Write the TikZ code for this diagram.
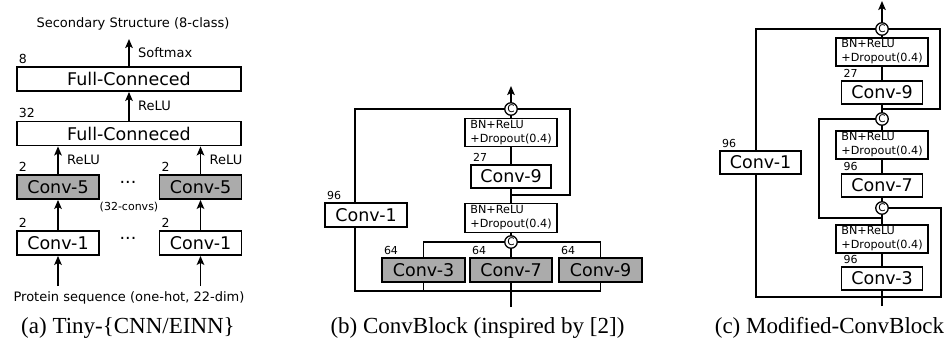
\documentclass[tikz,border=0pt]{standalone}
\usepackage{fontspec}
\setmainfont{DejaVu Sans}
\newfontfamily\capfont{Liberation Serif}
\usetikzlibrary{calc,arrows.meta}

\begin{document}
\begin{tikzpicture}[x=1pt,y=-1pt,line width=1.8pt,>={Stealth[length=9pt,width=7.5pt,inset=2pt]},
    blk/.style={draw,fill=white,inner sep=0pt,minimum height=24pt,
      font=\fontsize{17.5}{18}\selectfont},
    conv/.style={blk,minimum width=82pt},
    gconv/.style={conv,fill=black!33},
    bnbox/.style={draw,inner sep=0pt,minimum width=93pt,minimum height=28pt,
      align=left,font=\fontsize{11.2}{14}\selectfont},
    cat/.style={draw,circle,line width=1.3pt,fill=white,inner sep=0pt,
      minimum size=12.5pt,font=\fontsize{10.5}{10.5}\selectfont},
    num/.style={font=\fontsize{11}{11}\selectfont,inner sep=2pt,anchor=south west},
    numa/.style={num,font=\fontsize{12.5}{12.5}\selectfont},
    txt/.style={font=\fontsize{13}{14}\selectfont},
    captxt/.style={font=\capfont\fontsize{23}{23}\selectfont,anchor=base}]
  \useasboundingbox (0,0) rectangle (948,338);

  % (a)
  \node[txt] (out) at (133,24) {Secondary Structure (8-class)};
  \node[blk,minimum width=224pt,label={[numa]north west:8}] (fc2) at (129,79) {Full-Conneced};
  \node[blk,minimum width=224pt,label={[numa]north west:32}] (fc1) at (129,133.5) {Full-Conneced};
  \node[gconv,label={[numa]north west:2}] (c5a) at (58,187) {Conv-5};
  \node[gconv,label={[numa]north west:2}] (c5b) at (200.5,187) {Conv-5};
  \node[conv,label={[numa]north west:2}] (c1a) at (58,243) {Conv-1};
  \node[conv,label={[numa]north west:2}] (c1b) at (200.5,243) {Conv-1};
  \node[font=\fontsize{17.5}{18}\selectfont] (dt1) at (128,185) {···};
  \node[font=\fontsize{17.5}{18}\selectfont] (dt2) at (128,241) {···};
  \node[font=\fontsize{11}{11}\selectfont] (nconv) at (129,207) {(32-convs)};
  \node[txt] (inp) at (129,298) {Protein sequence (one-hot, 22-dim)};
  \coordinate (outa) at (129,39);
  \coordinate (ina1) at (58,286);
  \coordinate (ina2) at (200.5,286);
  \draw[->] (fc2.north) -- node[right=5pt,txt]{Softmax} (outa);
  \draw[->] (fc1.north) -- node[right=5pt,txt]{ReLU} (fc2.south);
  \draw[->] (c5a.north) -- node[right=5pt,txt]{ReLU} (c5a.north |- fc1.south);
  \draw[->] (c5b.north) -- node[right=5pt,txt]{ReLU} (c5b.north |- fc1.south);
  \draw[->] (c1a) -- (c5a);
  \draw[->] (c1b) -- (c5b);
  \draw[->] (ina1) -- (c1a);
  \draw[->] (ina2) -- (c1b);
  \node[captxt] (capa) at (128,333) {(a) Tiny-\{CNN/EINN\}};

  % (b)
  \node[cat] (cb2) at (511,109) {C};
  \node[bnbox,minimum width=92pt] (bnb1) at (511,132.5) {BN+ReLU\\+Dropout(0.4)};
  \node[blk,minimum width=80pt,minimum height=23pt,label={[num]north west:27}] (cv9b) at (511,176.5) {Conv-9};
  \node[bnbox,minimum width=92pt,minimum height=29pt] (bnb2) at (511,218) {BN+ReLU\\+Dropout(0.4)};
  \node[cat] (cb1) at (511,242) {C};
  \node[gconv,minimum width=83pt,label={[num]north west:64}] (g3) at (423.5,270) {Conv-3};
  \node[gconv,label={[num]north west:64}] (g7) at (511,270) {Conv-7};
  \node[gconv,minimum width=83pt,label={[num]north west:64}] (g9) at (600.5,270) {Conv-9};
  \node[conv,label={[num]north west:96}] (cv1b) at (366,215) {Conv-1};
  \coordinate (outb) at (511,86);
  \coordinate (inb) at (511,307);
  \coordinate (jb) at (511,195);
  \coordinate (busb) at (511,291);
  \draw (inb) -- (g7.south);
  \draw (g3.south) -- (g3.south |- busb);
  \draw ([xshift=-11pt]cv1b.south) |- (busb) -| (g9.south);
  \draw (g3.north) |- (cb1.west);
  \draw (g9.north) |- (cb1.east);
  \draw (g7.north) -- (cb1.south);
  \draw (cb1.north) -- (bnb2.south);
  \draw (bnb2.north) -- (cv9b.south);
  \draw (jb) -- ++(59,0) |- (cb2.east);
  \draw (cv9b.north) -- (bnb1.south);
  \draw (bnb1.north) -- (cb2.south);
  \draw ([xshift=-11pt]cv1b.north) |- (cb2.west);
  \draw[->] (cb2.north) -- (outb);
  \node[captxt] (capb) at (477.5,333) {(b) ConvBlock (inspired by [2])};

  % (c)
  \node[cat] (cc3) at (882,29) {C};
  \node[bnbox,minimum width=92pt] (bnc1) at (882,52) {BN+ReLU\\+Dropout(0.4)};
  \node[blk,minimum width=81pt,minimum height=23pt,label={[num]north west:27}] (cv9c) at (882,92.5) {Conv-9};
  \node[cat] (cc2) at (882,119) {C};
  \node[bnbox,minimum width=92pt] (bnc2) at (882,145) {BN+ReLU\\+Dropout(0.4)};
  \node[blk,minimum width=81pt,minimum height=23pt,label={[num]north west:96}] (cv7c) at (882,185.5) {Conv-7};
  \node[cat] (cc1) at (882,208) {C};
  \node[bnbox,minimum width=92pt] (bnc3) at (882,239) {BN+ReLU\\+Dropout(0.4)};
  \node[blk,minimum width=81pt,minimum height=23pt,label={[num]north west:96}] (cv3c) at (882,278.5) {Conv-3};
  \node[blk,minimum width=81pt,minimum height=23pt,label={[num]north west:96}] (cv1c) at (760.5,162.5) {Conv-1};
  \coordinate (outc) at (882,1);
  \coordinate (inc) at (882,306);
  \coordinate (jc1) at (882,109);
  \coordinate (jc2) at (882,218);
  \coordinate (busc) at (882,297);
  \draw (inc) -- (cv3c.south);
  \draw (cv3c.north) -- (bnc3.south);
  \draw (bnc3.north) -- (cc1.south);
  \draw (cc1.north) -- (cv7c.south);
  \draw (cv7c.north) -- (bnc2.south);
  \draw (bnc2.north) -- (cc2.south);
  \draw (cc2.north) -- (cv9c.south);
  \draw (cv9c.north) -- (bnc1.south);
  \draw (bnc1.north) -- (cc3.south);
  \draw (jc1) -- ++(58,0) |- (cc3.east);
  \draw (cc2.west) -- ++(-56,0) |- (jc2);
  \draw (cc1.east) -| ([xshift=59pt]busc) -| ([xshift=-4.5pt]cv1c.south);
  \draw ([xshift=-4.5pt]cv1c.north) |- (cc3.west);
  \draw[->] (cc3.north) -- (outc);
  \node[captxt] (capc) at (829.5,333) {(c) Modified-ConvBlock};
\end{tikzpicture}
\end{document}
